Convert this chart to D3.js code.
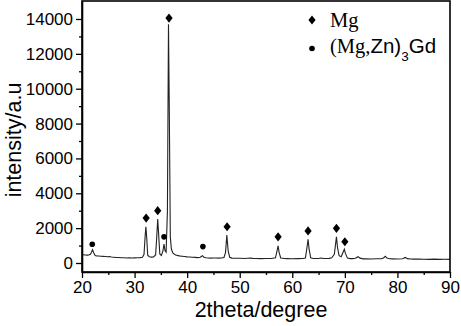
<!DOCTYPE html>
<html><head><meta charset="utf-8">
<script src="https://cdn.jsdelivr.net/npm/d3@7"></script>
<style>body{margin:0;background:#fff}svg{display:block}</style>
</head><body>
<script>
// XRD pattern: [2theta, intensity]
const pattern = [
[20.0,480],[20.3,470],[20.6,460],[21.0,450],[21.3,460],[21.6,500],[21.8,620],[22.0,760],[22.2,600],[22.5,430],
[22.8,410],[23.2,400],[23.6,390],[24.0,380],[24.4,370],[24.8,360],[25.2,370],[25.6,340],[26.0,330],[26.5,320],
[27.0,315],[27.5,300],[28.0,305],[28.5,290],[29.0,300],[29.5,290],[30.0,295],[30.5,300],[31.0,310],[31.5,330],
[31.8,500],[32.0,1500],[32.15,2080],[32.3,1500],[32.5,450],[32.8,360],[33.2,340],[33.6,350],[34.0,460],[34.2,1400],
[34.4,2520],[34.55,1800],[34.8,520],[35.1,430],[35.4,700],[35.6,1090],[35.8,700],[36.0,620],[36.25,3000],[36.45,13700],
[36.6,9000],[36.8,1500],[37.0,800],[37.3,560],[37.8,460],[38.5,410],[39.0,390],[39.5,370],[40.0,350],[40.5,345],
[41.0,330],[41.5,325],[42.0,310],[42.5,330],[42.9,420],[43.2,330],[43.6,300],[44.0,290],[44.5,280],[45.0,285],
[45.5,290],[46.0,280],[46.5,290],[47.0,320],[47.3,600],[47.55,1600],[47.8,700],[48.1,330],[48.5,280],[49.0,270],
[50.0,270],[51.0,260],[52.0,285],[52.5,265],[53.0,260],[54.0,250],[55.0,255],[56.0,260],[56.8,300],[57.1,700],
[57.3,990],[57.5,600],[57.8,290],[58.5,255],[59.0,250],[60.0,240],[61.0,250],[62.0,255],[62.5,290],[62.8,900],
[63.0,1360],[63.2,800],[63.5,300],[64.0,255],[65.0,260],[65.5,290],[66.0,260],[67.0,265],[67.5,300],[68.0,500],
[68.2,1000],[68.4,1500],[68.6,900],[68.9,420],[69.3,360],[69.7,650],[69.9,790],[70.1,550],[70.5,280],[71.0,250],
[71.5,250],[72.0,270],[72.5,360],[72.9,280],[73.5,240],[74.0,245],[75.0,230],[76.0,240],[77.0,240],[77.4,300],
[77.7,380],[78.0,280],[78.5,240],[79.0,235],[80.0,230],[81.0,240],[81.5,320],[81.9,250],[82.5,230],[83.0,225],
[84.0,220],[85.0,215],[86.0,210],[87.0,220],[88.0,210],[89.0,212],[90.0,210]
];
const mgMarkers = [[32.2,2580],[34.4,3000],[36.55,14050],[47.6,2080],[57.3,1500],[63.0,1840],[68.4,1990],[70.0,1220]];
const gdMarkers = [[21.95,1080],[35.6,1500],[43.0,940]];
const xTicks = [20,30,40,50,60,70,80,90];
const xMinor = [25,35,45,55,65,75,85];
const yTicks = [0,2000,4000,6000,8000,10000,12000,14000];
const yMinor = [1000,3000,5000,7000,9000,11000,13000];
const xTitle = "2theta/degree";
const yTitle = "intensity/a.u";

const W=461,H=326;
const L=82,R=450,T=1,B=272;
const svg=d3.select("body").append("svg").attr("width",W).attr("height",H);
const x=d3.scaleLinear().domain([20,90]).range([L,R]);
const y=d3.scaleLinear().domain([-516,15032]).range([B,T]);

const font="'Liberation Sans', Arial, sans-serif";
const serif="'Liberation Serif', 'Times New Roman', serif";

// line
svg.append("path").datum(pattern)
  .attr("d",d3.line().x(d=>x(d[0])).y(d=>y(d[1])))
  .attr("fill","none").attr("stroke","#222").attr("stroke-width",1.1);

// frame
svg.append("rect").attr("x",L).attr("y",T).attr("width",R-L).attr("height",B-T)
  .attr("fill","none").attr("stroke","#000").attr("stroke-width",1.6);

// axes
svg.append("g").attr("transform",`translate(0,${B})`)
  .call(d3.axisBottom(x).tickValues(xTicks).tickSize(6).tickSizeOuter(0).tickPadding(3));
svg.append("g").attr("transform",`translate(0,${B})`)
  .call(d3.axisBottom(x).tickValues(xMinor).tickSize(3).tickFormat("")).select(".domain").remove();
svg.append("g").attr("transform",`translate(${L},0)`)
  .call(d3.axisLeft(y).tickValues(yTicks).tickSize(6).tickSizeOuter(0).tickPadding(3).tickFormat(d3.format("d")));
svg.append("g").attr("transform",`translate(${L},0)`)
  .call(d3.axisLeft(y).tickValues(yMinor).tickSize(3).tickFormat("")).select(".domain").remove();
svg.selectAll(".domain").attr("stroke-width",1.6).attr("stroke","#000");
svg.selectAll(".tick line").attr("stroke","#000").attr("stroke-width",1.3);
svg.selectAll(".tick text").attr("font-family",font).attr("font-size",17).attr("fill","#000");

// titles
svg.append("text").attr("x",261).attr("y",317).attr("text-anchor","middle")
  .attr("font-family",font).attr("font-size",21.5).text(xTitle);
svg.append("text").attr("transform","translate(21,140) rotate(-90)").attr("text-anchor","middle")
  .attr("font-family",font).attr("font-size",21.5).text(yTitle);

// markers: diamond 7 wide x 9 tall
const diamondType={draw(ctx){ctx.moveTo(0,-4.6);ctx.lineTo(3.6,0);ctx.lineTo(0,4.6);ctx.lineTo(-3.6,0);ctx.closePath();}};
const diamond=d3.symbol().type(diamondType);
svg.selectAll(".mg").data(mgMarkers).join("path")
  .attr("d",diamond).attr("transform",d=>`translate(${x(d[0])},${y(d[1])})`).attr("fill","#000");
svg.selectAll(".gd").data(gdMarkers).join("circle")
  .attr("cx",d=>x(d[0])).attr("cy",d=>y(d[1])).attr("r",2.8).attr("fill","#000");

// legend
svg.append("path").attr("d",diamond).attr("transform","translate(312,20)").attr("fill","#000");
svg.append("text").attr("x",330).attr("y",27).attr("font-family",serif)
  .attr("font-size",20.5).text("Mg");
svg.append("circle").attr("cx",312).attr("cy",48.5).attr("r",2.8).attr("fill","#000");
const lt=svg.append("text").attr("x",330).attr("y",53).attr("font-size",20.5);
lt.append("tspan").attr("font-family",serif).text("(Mg,");
lt.append("tspan").attr("font-family",font).text("Zn)");
lt.append("tspan").attr("font-family",font).attr("font-size",13.5).attr("dy",8).text("3");
lt.append("tspan").attr("font-family",font).attr("dy",-8).text("Gd");
</script>
</body></html>
